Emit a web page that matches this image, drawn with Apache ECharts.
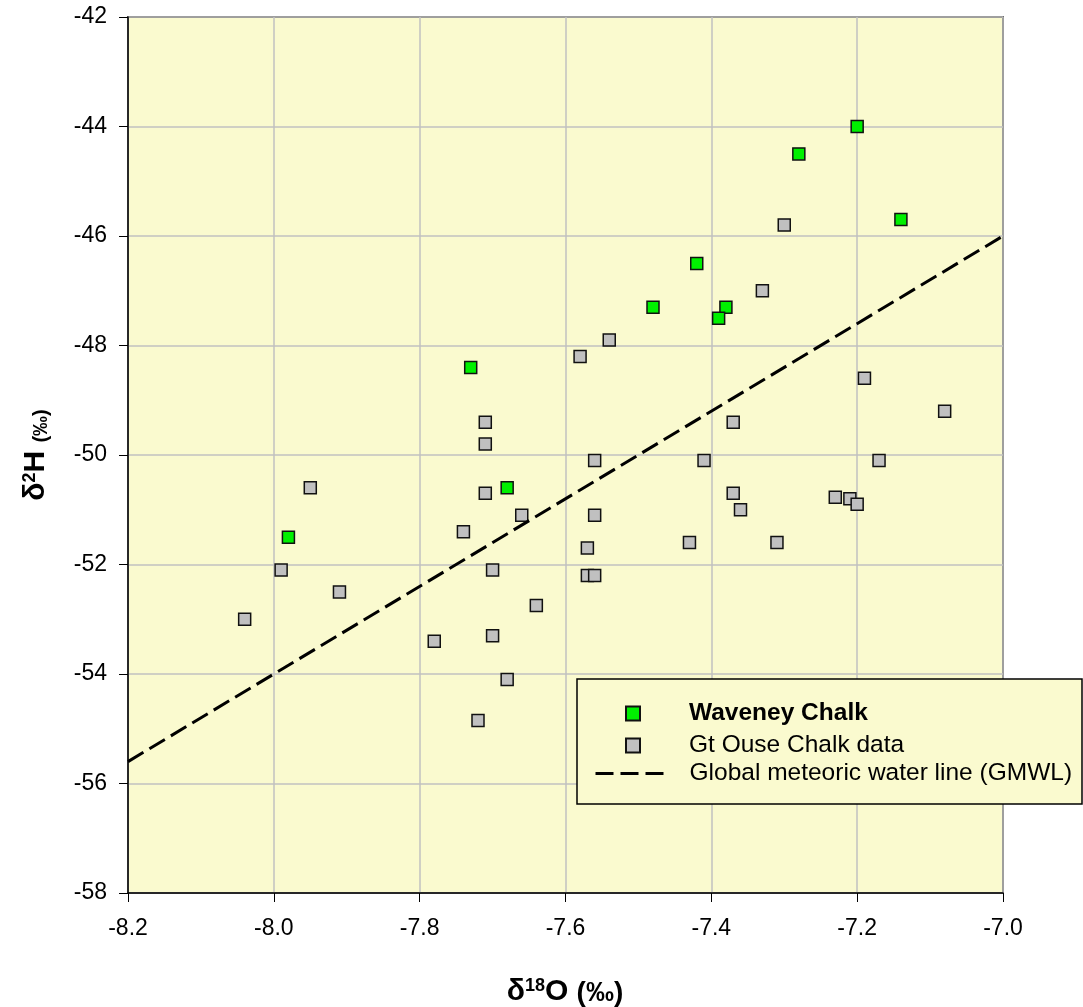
<!DOCTYPE html>
<html>
<head>
<meta charset="utf-8">
<title>Waveney Chalk isotopes</title>
<script src="https://cdn.jsdelivr.net/npm/echarts@6/dist/echarts.min.js"></script>
<style>
  html, body { margin: 0; padding: 0; background: #fff; }
  #chart { width: 1083px; height: 1007px; }
</style>
</head>
<body>
<div id="chart"></div>
<script>
// delta 18O (x) / delta 2H (y), per‰
const waveneyX = [-7.20, -7.28, -7.14, -7.42, -7.48, -7.38, -7.39, -7.73, -7.68, -7.98];
const waveneyY = [-44.0, -44.5, -45.7, -46.5, -47.3, -47.3, -47.5, -48.4, -50.6, -51.5];

const ouseX = [-8.04, -7.99, -7.95, -7.91, -7.78, -7.74, -7.72, -7.71, -7.71, -7.71,
  -7.70, -7.70, -7.68, -7.66, -7.64, -7.58, -7.54, -7.57, -7.57, -7.56,
  -7.56, -7.56, -7.43, -7.41, -7.37, -7.37, -7.36, -7.33, -7.31, -7.30,
  -7.23, -7.21, -7.20, -7.19, -7.17, -7.08];
const ouseY = [-53.0, -52.1, -50.6, -52.5, -53.4, -51.4, -54.85, -49.4, -49.8, -50.7,
  -52.1, -53.3, -54.1, -51.1, -52.75, -48.2, -47.9, -51.7, -52.2, -52.2,
  -50.1, -51.1, -51.6, -50.1, -49.4, -50.7, -51.0, -47.0, -51.6, -45.8,
  -50.77, -50.8, -50.9, -48.6, -50.1, -49.2];

// GMWL end points (read at the plot edges)
const gmwlX = [-8.2, -7.0];
const gmwlY = [-55.6, -46.0];

const xTicks = { min: -8.2, max: -7.0, step: 0.2 };
const yTicks = { min: -58, max: -42, step: 2 };

const FONT = '"Liberation Sans", Arial, sans-serif';
const PLOT_BG = '#fafacf';

const pairs = (xs, ys) => xs.map((x, i) => [x, ys[i]]);

const chart = echarts.init(document.getElementById('chart'), null, { renderer: 'canvas' });

const legendText = { color: '#000', fontSize: 24.5, lineHeight: 24, fontFamily: FONT };

chart.setOption({
  animation: false,
  backgroundColor: '#fff',
  grid: {
    left: 128, top: 17, right: 80, bottom: 114,
    show: true,
    backgroundColor: PLOT_BG,
    borderColor: '#000',
    borderWidth: 1.5,
  },
  xAxis: {
    type: 'value',
    min: xTicks.min, max: xTicks.max, interval: xTicks.step,
    axisLine: { show: true, onZero: false, lineStyle: { color: '#000', width: 1.5 } },
    axisTick: { show: true, inside: false, length: 9, lineStyle: { color: '#000', width: 1 } },
    axisLabel: {
      margin: 24, color: '#000', fontSize: 23, fontFamily: FONT,
      formatter: (v) => v.toFixed(1),
    },
    splitLine: { show: true, lineStyle: { color: '#c0c0c0', width: 1.5 } },
  },
  yAxis: {
    type: 'value',
    min: yTicks.min, max: yTicks.max, interval: yTicks.step,
    axisLine: { show: true, onZero: false, lineStyle: { color: '#000', width: 1.5 } },
    axisTick: { show: true, inside: false, length: 9, lineStyle: { color: '#000', width: 1 } },
    axisLabel: { margin: 21, color: '#000', fontSize: 23, fontFamily: FONT },
    splitLine: { show: true, lineStyle: { color: '#c0c0c0', width: 1.5 } },
  },
  legend: [
    {
      z: 10,
      orient: 'vertical',
      left: 625, top: 701,
      padding: 0,
      itemWidth: 14, itemHeight: 14, itemGap: 7,
      icon: 'rect',
      textStyle: Object.assign({}, legendText, { padding: [0, 0, 0, 44] }),
      data: [
        { name: 'Waveney Chalk', textStyle: { fontWeight: 'bold' } },
        { name: 'Gt Ouse Chalk data' },
      ],
      selectedMode: false,
    },
    {
      z: 10,
      orient: 'vertical',
      left: 594, top: 761,
      padding: 0,
      itemWidth: 68, itemHeight: 14,
      textStyle: Object.assign({}, legendText, { padding: [0, 0, 0, 21] }),
      itemStyle: { opacity: 0 },
      lineStyle: { color: '#000', width: 3, type: [18, 7], opacity: 1 },
      data: [{ name: 'Global meteoric water line (GMWL)' }],
      selectedMode: false,
    },
  ],
  graphic: [
    {
      type: 'rect', z: 5,
      shape: { x: 577, y: 679, width: 505, height: 125 },
      style: { fill: PLOT_BG, stroke: '#000', lineWidth: 1.5 },
    },
    {
      type: 'text', z: 5,
      x: 565, y: 992,
      style: {
        text: '{d|δ}{s|18}{d|O }{p|(‰)}',
        align: 'center', verticalAlign: 'middle',
        fill: '#000', fontFamily: FONT,
        rich: {
          d: { fontSize: 30, fontWeight: 'bold', fontFamily: FONT, verticalAlign: 'bottom' },
          s: { fontSize: 18, fontWeight: 'bold', fontFamily: FONT, verticalAlign: 'top' },
          p: { fontSize: 28, fontWeight: 'bold', fontFamily: FONT, verticalAlign: 'bottom' },
        },
      },
    },
    {
      type: 'text', z: 5,
      x: 36, y: 455,
      rotation: Math.PI / 2,
      style: {
        text: '{d|δ}{s|2}{d|H }{p|(‰)}',
        align: 'center', verticalAlign: 'middle',
        fill: '#000', fontFamily: FONT,
        rich: {
          d: { fontSize: 30, fontWeight: 'bold', fontFamily: FONT, verticalAlign: 'bottom' },
          s: { fontSize: 18, fontWeight: 'bold', fontFamily: FONT, verticalAlign: 'top' },
          p: { fontSize: 20, fontWeight: 'bold', fontFamily: FONT, verticalAlign: 'bottom' },
        },
      },
    },
  ],
  series: [
    {
      name: 'Global meteoric water line (GMWL)',
      type: 'line',
      data: pairs(gmwlX, gmwlY),
      symbol: 'none',
      silent: true,
      itemStyle: { color: '#000' },
      lineStyle: { color: '#000', width: 3, type: [18, 7] },
    },
    {
      name: 'Gt Ouse Chalk data',
      type: 'scatter',
      data: pairs(ouseX, ouseY),
      symbol: 'rect',
      symbolSize: 12,
      itemStyle: { color: '#c0c0c0', borderColor: '#111', borderWidth: 1.5, opacity: 1 },
    },
    {
      name: 'Waveney Chalk',
      type: 'scatter',
      data: pairs(waveneyX, waveneyY),
      symbol: 'rect',
      symbolSize: 12,
      itemStyle: { color: '#00f000', borderColor: '#111', borderWidth: 1.5, opacity: 1 },
    },
  ],
});
</script>
</body>
</html>
